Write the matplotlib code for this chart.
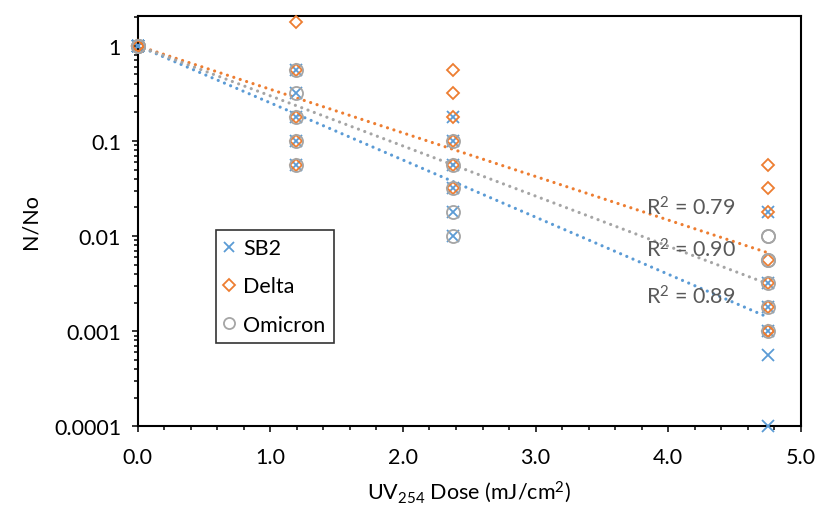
import numpy as np
import matplotlib
matplotlib.use("Agg")
import matplotlib.pyplot as plt
from matplotlib.ticker import MultipleLocator, LogLocator, FixedLocator, NullFormatter

plt.rcParams["font.family"] = ["Lato", "DejaVu Sans"]
plt.rcParams["mathtext.fontset"] = "custom"
plt.rcParams["mathtext.rm"] = "Lato"
plt.rcParams["mathtext.it"] = "Lato:italic"

# UV254 dose (mJ/cm2) vs N/No, one list pair per virus
sb2_dose = [0, 0, 0, 0, 0, 0,
            1.19, 1.19, 1.19, 1.19, 1.19,
            2.38, 2.38, 2.38, 2.38, 2.38, 2.38,
            4.75, 4.75, 4.75, 4.75, 4.75, 4.75]
sb2_ratio = [1, 1, 1, 1, 1, 1,
             0.56, 0.32, 0.18, 0.1, 0.056,
             0.18, 0.1, 0.056, 0.032, 0.018, 0.01,
             0.018, 0.0032, 0.0018, 0.001, 0.00056, 0.0001]

delta_dose = [0, 0, 0, 0, 0, 0,
              1.19, 1.19, 1.19, 1.19, 1.19,
              2.38, 2.38, 2.38, 2.38, 2.38, 2.38,
              4.75, 4.75, 4.75, 4.75, 4.75, 4.75, 4.75, 4.75]
delta_ratio = [1, 1, 1, 1, 1, 1,
               1.78, 0.56, 0.18, 0.1, 0.056,
               0.56, 0.32, 0.18, 0.1, 0.056, 0.032,
               0.056, 0.032, 0.018, 0.0056, 0.0032, 0.0018, 0.001, 0.001]

omicron_dose = [0, 0, 0, 0, 0,
                1.19, 1.19, 1.19, 1.19, 1.19,
                2.38, 2.38, 2.38, 2.38, 2.38,
                4.75, 4.75, 4.75, 4.75, 4.75, 4.75, 4.75]
omicron_ratio = [1, 1, 1, 1, 1,
                 0.56, 0.32, 0.18, 0.1, 0.056,
                 0.1, 0.056, 0.032, 0.018, 0.01,
                 0.01, 0.01, 0.0056, 0.0056, 0.0032, 0.0018, 0.001]

names = ["SB2", "Delta", "Omicron"]
r2_labels = ["R$^{2}$ = 0.89", "R$^{2}$ = 0.79", "R$^{2}$ = 0.90"]
r2_pos = [(3.83, 0.00234), (3.83, 0.0202), (3.83, 0.0073)]

colors = ["#5B9BD5", "#ED7D31", "#A5A5A5"]
markers = ["x", "D", "o"]
msizes = [8.5, 6.6, 9.4]
fs = 15.5

fig = plt.figure(figsize=(8.16, 5.06), dpi=100)
ax = fig.add_axes([0.1688, 0.1555, 0.8125, 0.8115])

series = [(sb2_dose, sb2_ratio), (delta_dose, delta_ratio), (omicron_dose, omicron_ratio)]
handles = []
for (x, y), name, c, m, ms in zip(series, names, colors, markers, msizes):
    h, = ax.plot(x, y, linestyle="none", marker=m, markersize=ms, markerfacecolor="none",
                 markeredgecolor=c, markeredgewidth=1.3, clip_on=False, label=name, zorder=3)
    handles.append(h)

# exponential trendlines, intercept set to 1 (as in the Excel chart)
for (x, y), c in zip(series, colors):
    x = np.array(x, dtype=float)
    ly = np.log(np.array(y, dtype=float))
    k = np.sum(x * ly) / np.sum(x * x)
    xs = np.linspace(0, x.max(), 200)
    ax.plot(xs, np.exp(k * xs), color=c, lw=2.3, linestyle=(0, (0.01, 2.1)),
            dash_capstyle="round", zorder=2)

for txt, (tx, ty) in zip(r2_labels, r2_pos):
    ax.text(tx, ty, txt, color="#595959", fontsize=fs, ha="left", va="center", zorder=4)

ax.set_yscale("log")
ax.set_xlim(0, 5)
ax.set_ylim(1e-4, 2.07)

ax.xaxis.set_minor_locator(MultipleLocator(0.2))
ax.set_xticks([0, 1, 2, 3, 4, 5])
ax.set_xticklabels(["0.0", "1.0", "2.0", "3.0", "4.0", "5.0"])
ax.yaxis.set_major_locator(FixedLocator([1e-4, 1e-3, 1e-2, 1e-1, 1]))
ax.set_yticklabels(["0.0001", "0.001", "0.01", "0.1", "1"])
ax.yaxis.set_minor_locator(LogLocator(base=10, subs=np.arange(2, 10)))
ax.yaxis.set_minor_formatter(NullFormatter())

ax.tick_params(which="both", direction="out", width=1.1, labelsize=fs, colors="black")
ax.tick_params(which="major", length=4)
ax.tick_params(which="minor", length=3)
ax.tick_params(axis="x", pad=11)
ax.tick_params(axis="y", pad=8)
for s in ax.spines.values():
    s.set_linewidth(1.5)

ax.set_xlabel("UV$_{254}$ Dose (mJ/cm$^{2}$)", fontsize=fs, labelpad=8)
ax.set_ylabel("N/No", fontsize=fs, labelpad=10)

leg = ax.legend(handles=handles, loc="upper left", bbox_to_anchor=(215.7 / 816, 1 - 231 / 506),
                bbox_transform=fig.transFigure, borderaxespad=0, fontsize=fs, frameon=True,
                fancybox=False, edgecolor="black", labelspacing=0.85, handlelength=0.5,
                handletextpad=0.4, borderpad=0.38, markerscale=0.85)
leg.get_frame().set_linewidth(1.2)

fig.savefig("out.png", dpi=100)
